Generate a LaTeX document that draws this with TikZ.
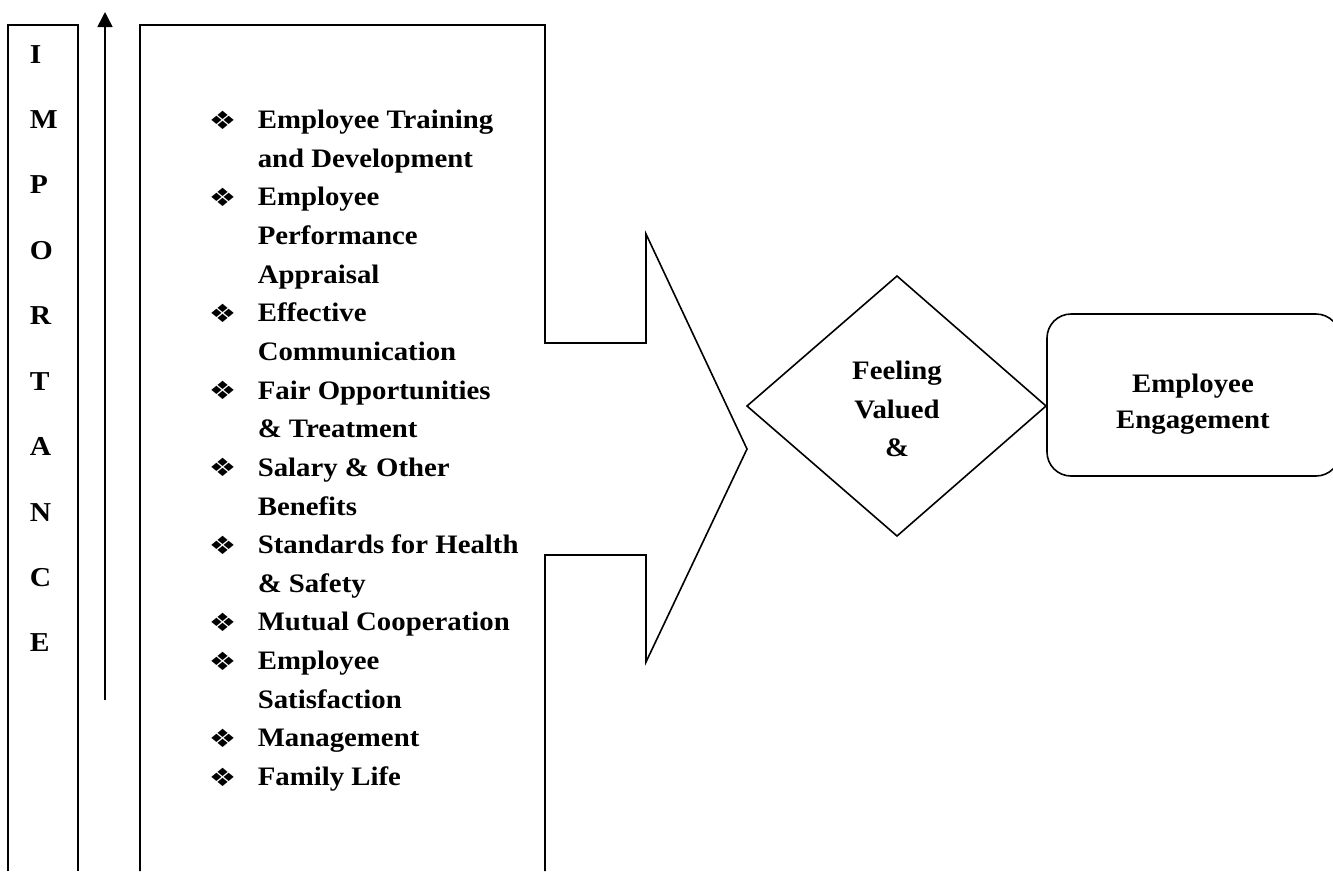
\documentclass[tikz,border=0pt]{standalone}
\usepackage{fontspec}
\setmainfont{Liberation Serif}[FakeStretch=1.08]
\newfontfamily\symfont{DejaVu Sans}
\usetikzlibrary{arrows.meta}
\begin{document}
\begin{tikzpicture}[x=0.75pt,y=-0.75pt,
  line width=1.2pt,
  lst/.style={font=\bfseries\fontsize{20}{24}\selectfont, inner sep=0pt, anchor=base west},
  bul/.style={font=\symfont\fontsize{23}{24}\selectfont, inner sep=0pt, anchor=base west},
  imp/.style={font=\bfseries\fontsize{20.5}{24}\selectfont, inner sep=0pt, anchor=base west},
  lbl/.style={font=\bfseries\fontsize{20}{24}\selectfont, inner sep=0pt, anchor=base},
  outline/.style={draw=black, line width=1.2pt, line join=miter}
]
\useasboundingbox (0,0) rectangle (1333,871);
% left importance column
\draw[outline] (8,871) -- (8,25) -- (78,25) -- (78,871);
\foreach \c [count=\i from 0] in {I,M,P,O,R,T,A,N,C,E}
  \node[imp] (imp\i) at (29,{63+65.44*\i}) {\c};
% upward arrow
\coordinate (arB) at (105,700);
\coordinate (arT) at (105,12);
\draw[-{Triangle[length=11.25pt,width=11.25pt]}] (arB) -- (arT);
% main box with chevron
\coordinate (m1) at (140,871);
\coordinate (m2) at (140,25);
\coordinate (m3) at (545,25);
\coordinate (m4) at (545,343);
\coordinate (m5) at (646,343);
\coordinate (m6) at (646,234);
\coordinate (tip) at (747,449);
\coordinate (m7) at (646,662);
\coordinate (m8) at (646,555);
\coordinate (m9) at (545,555);
\coordinate (m10) at (545,871);
\draw[outline] (m1) -- (m2) -- (m3) -- (m4) -- (m5) -- (m6) -- (tip) -- (m7) -- (m8) -- (m9) -- (m10);
% list
\foreach \i/\t/\b in {0/Employee Training/1, 1/and Development/0, 2/Employee/1, 3/Performance/0,
  4/Appraisal/0, 5/Effective/1, 6/Communication/0, 7/Fair Opportunities/1, 8/\& Treatment/0,
  9/Salary \& Other/1, 10/Benefits/0, 11/Standards for Health/1, 12/\& Safety/0,
  13/Mutual Cooperation/1, 14/Employee/1, 15/Satisfaction/0, 16/Management/1, 17/Family Life/1}{
  \node[lst] (l\i) at (257,{128.5+38.65*\i}) {\t};
  \ifnum\b=1 \node[bul] (b\i) at (208,{129+38.65*\i}) {\scalebox{1}[0.82]{❖}}; \fi
}
% diamond
\coordinate (dL) at (747,406);
\coordinate (dT) at (897,276);
\coordinate (dR) at (1046,406);
\coordinate (dB) at (897,536);
\draw[outline] (dL) -- (dT) -- (dR) -- (dB) -- cycle;
\node[lbl] (fv1) at (897,379) {Feeling};
\node[lbl] (fv2) at (897,418) {Valued};
\node[lbl] (fv3) at (897,456) {\&};
% rounded box
\coordinate (eA) at (1047,314);
\coordinate (eB) at (1340,476);
\draw[outline, rounded corners=18pt] (eA) rectangle (eB);
\node[lbl] (ee1) at (1193,392) {Employee};
\node[lbl] (ee2) at (1193,428) {Engagement};
\end{tikzpicture}
\end{document}
